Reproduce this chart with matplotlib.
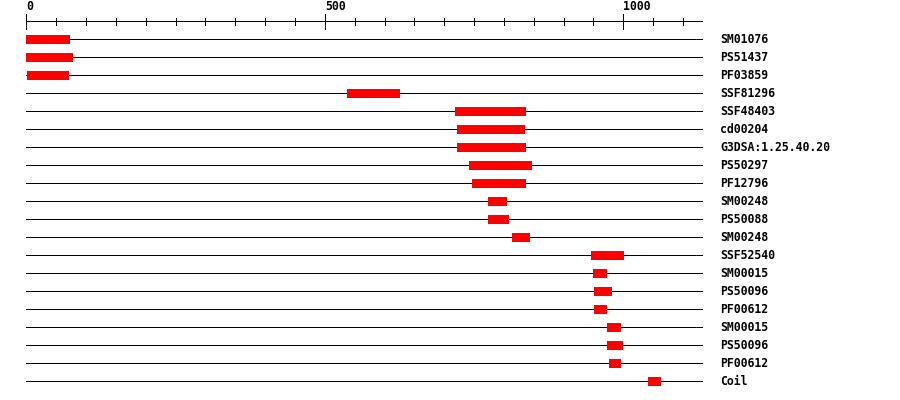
"""Domain architecture strip: one row per feature, red boxes on a 0-1130 ruler."""

import matplotlib
matplotlib.use("Agg")
import matplotlib.pyplot as plt

LABELS = ["SM01076", "PS51437", "PF03859", "SSF81296", "SSF48403", "cd00204",
          "G3DSA:1.25.40.20", "PS50297", "PF12796", "SM00248", "PS50088",
          "SM00248", "SSF52540", "SM00015", "PS50096", "PF00612", "SM00015",
          "PS50096", "PF00612", "Coil"]
STARTS = [0, 0, 1, 537, 718, 722, 722, 742, 747, 773, 773, 813, 946, 949,
          951, 951, 973, 973, 976, 1041]
ENDS = [73, 78, 71, 626, 837, 835, 837, 847, 837, 805, 808, 844, 1001, 973,
        981, 973, 996, 1000, 996, 1063]
SEQ_LEN = 1131
MAJOR = [0, 500, 1000]
MINOR = list(range(50, 1101, 50))

# pixel layout: x px = 26.3 + 0.597*u ; y px = 39.3 + 18*row
PX_PER_U = 0.597
X0 = 26.3
ROW0, ROW_H = 39.3, 18.0
W, H = 900, 400
LW = 0.72  # one pixel at 100 dpi


def main() -> None:
    fig = plt.figure(figsize=(W / 100, H / 100), dpi=100)
    ax = fig.add_axes([0, 0, 1, 1])
    ax.set_xlim(-X0 / PX_PER_U, (W - X0) / PX_PER_U)
    ax.set_ylim((H - ROW0) / ROW_H, -ROW0 / ROW_H)
    ax.axis("off")

    px = 1 / ROW_H  # one pixel in row units
    ruler_y = (21 - ROW0) / ROW_H
    ax.hlines(ruler_y, 0, SEQ_LEN, color="black", lw=LW, antialiased=False)
    ax.vlines(MAJOR, ruler_y - 7.5 * px, ruler_y + 7.5 * px, color="black",
              lw=LW, antialiased=False)
    ax.vlines([m for m in MINOR if m not in MAJOR], ruler_y - 3.5 * px,
              ruler_y + 3.5 * px, color="black", lw=LW, antialiased=False)
    for m in MAJOR:
        ax.text(m, ruler_y - 8.5 * px, str(m), ha="left", va="bottom",
                family="DejaVu Sans Mono", fontweight="bold", fontsize=8.3)

    for i, (lab, s, e) in enumerate(zip(LABELS, STARTS, ENDS)):
        ax.hlines(i, 0, SEQ_LEN, color="black", lw=LW, antialiased=False, zorder=1)
        ax.barh(i, e - s, left=s, height=9 * px, color="#ff0000",
                antialiased=False, zorder=2)
        ax.text(SEQ_LEN + 31, i, lab, ha="left", va="center",
                family="DejaVu Sans Mono", fontweight="bold", fontsize=8.3)

    fig.savefig("out.png", dpi=100, facecolor="white")


if __name__ == "__main__":
    main()
